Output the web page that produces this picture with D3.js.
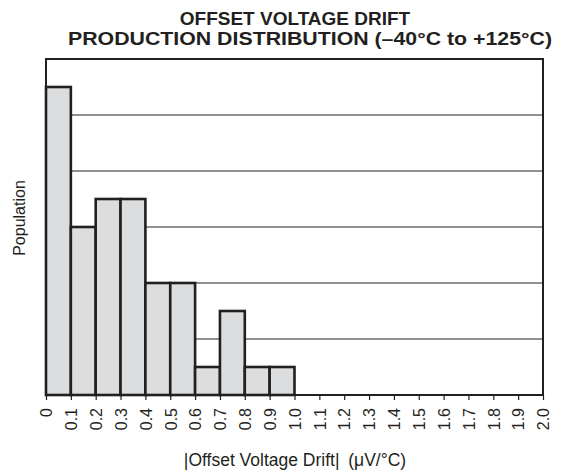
<!DOCTYPE html>
<html>
<head>
<meta charset="utf-8">
<script src="https://cdn.jsdelivr.net/npm/d3@7"></script>
<style>
  body { margin: 0; background: #fff; }
  text { font-family: "Liberation Sans", Arial, sans-serif; fill: #231f20; }
</style>
</head>
<body>
<div id="vis-container"></div>
<script>
// Data (population in grid units)
const binStarts = [0, 0.1, 0.2, 0.3, 0.4, 0.5, 0.6, 0.7, 0.8, 0.9];
const binWidth = 0.1;
const counts = [5.5, 3.0, 3.5, 3.5, 2.0, 2.0, 0.5, 1.5, 0.5, 0.5];
const xTicks = [0, 0.1, 0.2, 0.3, 0.4, 0.5, 0.6, 0.7, 0.8, 0.9, 1.0,
                1.1, 1.2, 1.3, 1.4, 1.5, 1.6, 1.7, 1.8, 1.9, 2.0];
const yGrid = [1, 2, 3, 4, 5];

const width = 561;
const height = 475;
const margin = { top: 59, right: 18, bottom: 80, left: 46 };
const ink = "#231f20";

const svg = d3.select("#vis-container")
              .append("svg")
              .attr("width", width)
              .attr("height", height);

// Scales
const x = d3.scaleLinear()
            .domain([0, 2])
            .range([margin.left, width - margin.right]);

const y = d3.scaleLinear()
            .domain([0, 6])
            .range([height - margin.bottom, margin.top]);

// Horizontal grid lines (bars drawn on top)
svg.append("g")
   .selectAll("line")
   .data(yGrid)
   .join("line")
     .attr("x1", x(0))
     .attr("x2", x(2))
     .attr("y1", d => y(d))
     .attr("y2", d => y(d))
     .attr("stroke", ink)
     .attr("stroke-width", 1.2);

// Bars
svg.append("g")
   .selectAll("rect")
   .data(binStarts)
   .join("rect")
     .attr("x", d => x(d))
     .attr("y", (d, i) => y(counts[i]))
     .attr("width", d => x(d + binWidth) - x(d))
     .attr("height", (d, i) => y(0) - y(counts[i]))
     .attr("fill", "#dcdddf")
     .attr("stroke", ink)
     .attr("stroke-width", 2.6);

// Frame
svg.append("rect")
   .attr("x", x(0))
   .attr("y", y(6))
   .attr("width", x(2) - x(0))
   .attr("height", y(0) - y(6))
   .attr("fill", "none")
   .attr("stroke", ink)
   .attr("stroke-width", 2);

// X axis
const xAxis = svg.append("g")
   .attr("transform", `translate(0,${y(0)})`)
   .call(d3.axisBottom(x)
     .tickValues(xTicks)
     .tickSize(5)
     .tickPadding(0)
     .tickFormat(d => d === 0 ? "0" : d3.format(".1f")(d)));

xAxis.select(".domain").remove();
xAxis.selectAll(".tick line").attr("stroke", ink).attr("stroke-width", 1.2);
xAxis.selectAll(".tick text")
     .attr("font-size", "16px")
     .attr("font-family", "Liberation Sans, Arial, sans-serif")
     .attr("fill", ink)
     .attr("text-anchor", "end")
     .attr("transform", "rotate(-90)")
     .attr("x", -13)
     .attr("y", 0)
     .attr("dy", "0.36em");

// Axis titles
svg.append("text")
   .attr("x", 295)
   .attr("y", 466)
   .attr("text-anchor", "middle")
   .attr("font-size", "17.5px")
   .text("|Offset Voltage Drift|\u2002(\u03bcV/\u00b0C)");

svg.append("text")
   .attr("transform", "translate(25,218) rotate(-90)")
   .attr("text-anchor", "middle")
   .attr("font-size", "16px")
   .text("Population");

// Chart title
svg.append("text")
   .attr("x", 295)
   .attr("y", 25)
   .attr("text-anchor", "middle")
   .attr("font-size", "19px")
   .attr("font-weight", "bold")
   .text("OFFSET VOLTAGE DRIFT");

svg.append("text")
   .attr("x", 310)
   .attr("y", 45)
   .attr("text-anchor", "middle")
   .attr("font-size", "19px")
   .attr("font-weight", "bold")
   .attr("textLength", 484)
   .attr("lengthAdjust", "spacingAndGlyphs")
   .text("PRODUCTION DISTRIBUTION (\u201340\u00b0C to +125\u00b0C)");
</script>
</body>
</html>
